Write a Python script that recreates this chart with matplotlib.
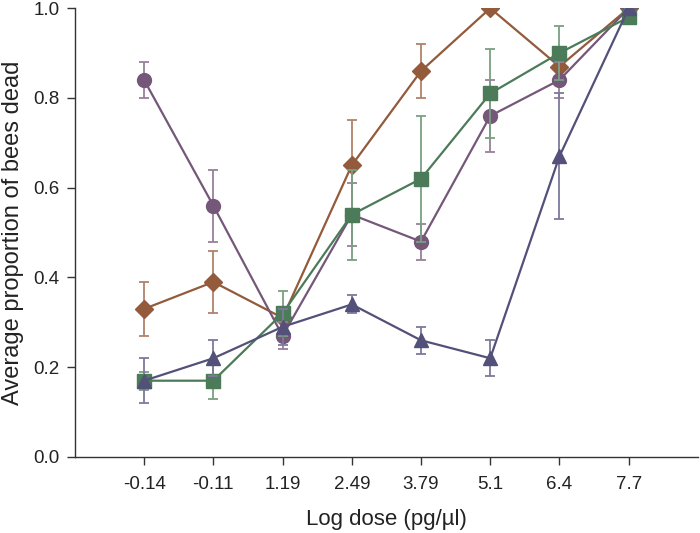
import matplotlib.pyplot as plt

plt.rcParams['font.family'] = ['Liberation Sans', 'DejaVu Sans']

# dose labels on the x axis (categorical)
doses = ['-0.14', '-0.11', '1.19', '2.49', '3.79', '5.1', '6.4', '7.7']

# brown diamonds
brown_y   = [0.33, 0.39, 0.31, 0.65, 0.86, 1.00, 0.87, 1.00]
brown_err = [0.06, 0.07, 0.01, 0.10, 0.06, 0.00, 0.00, 0.00]
# purple circles
purple_y   = [0.84, 0.56, 0.27, 0.54, 0.48, 0.76, 0.84, 1.00]
purple_err = [0.04, 0.08, 0.03, 0.07, 0.04, 0.08, 0.04, 0.00]
# green squares
green_y   = [0.17, 0.17, 0.32, 0.54, 0.62, 0.81, 0.90, 0.98]
green_err = [0.02, 0.04, 0.05, 0.10, 0.14, 0.10, 0.06, 0.00]
# navy triangles
navy_y   = [0.17, 0.22, 0.29, 0.34, 0.26, 0.22, 0.67, 1.00]
navy_err = [0.05, 0.04, 0.04, 0.02, 0.03, 0.04, 0.14, 0.00]

series = [
    (brown_y, brown_err, 'D', '#935a3b', '#b0826a'),
    (purple_y, purple_err, 'o', '#755779', '#98809b'),
    (green_y, green_err, 's', '#4b7b58', '#7aa082'),
    (navy_y, navy_err, '^', '#535079', '#7c799c'),
]

fig = plt.figure(figsize=(7, 5.33), dpi=100)
ax = fig.add_axes([0.107, 0.1426, 0.89, 0.842])

x = list(range(len(doses)))
for ys, errs, mk, col, ecol in series:
    ax.errorbar(x, ys, yerr=errs, fmt='none', ecolor=ecol, elinewidth=1.3,
                capsize=3.8, capthick=1.3)
    ax.plot(x, ys, color=col, linewidth=1.6, marker=mk,
            markersize=10 if mk != 'D' else 9, markeredgecolor=col,
            markerfacecolor=col)

ax.set_xlim(-1, 8)
ax.set_ylim(0, 1.0)
ax.set_xticks(x)
ax.set_xticklabels(doses)
ax.set_yticks([0.0, 0.2, 0.4, 0.6, 0.8, 1.0])
ax.set_yticklabels(['0.0', '0.2', '0.4', '0.6', '0.8', '1.0'])
ax.spines['top'].set_visible(False)
ax.spines['right'].set_visible(False)
for s in ('left', 'bottom'):
    ax.spines[s].set_color('#333333')
    ax.spines[s].set_linewidth(1.0)
ax.tick_params(direction='out', length=6, width=1.0, colors='#333333',
               labelsize=13.5, labelcolor='#222222', pad=5)
ax.tick_params(axis='x', pad=8)
ax.set_xlabel('Log dose (pg/\u00b5l)', fontsize=16, color='#222222', labelpad=11)
ax.set_ylabel('Average proportion of bees dead', fontsize=17, color='#222222',
              labelpad=7)

fig.savefig('out.png', dpi=100)
